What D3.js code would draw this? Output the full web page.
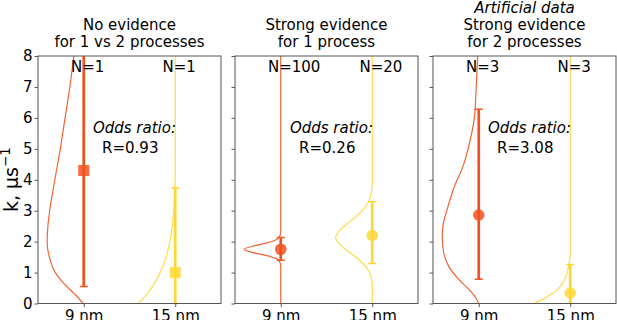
<!DOCTYPE html>
<html lang="en">
<head>
<meta charset="UTF-8" />
<script src="https://d3js.org/d3.v7.min.js"></script>
<style>
  body { margin: 0; background: #fff; }
  text { font-family: "DejaVu Sans", sans-serif; fill: #000; }
</style>
</head>
<body>
<script>
// ---- data ----
var categories = ["9 nm", "15 nm"];
var kTicks = [0, 1, 2, 3, 4, 5, 6, 7, 8];
var titles = [
    ["No evidence", "for 1 vs 2 processes"],
    ["Strong evidence", "for 1 process"],
    ["Artificial data", "Strong evidence", "for 2 processes"]
];
var counts = [[1, 1], [100, 20], [3, 3]];
var oddsRatios = ["0.93", "0.26", "3.08"];
var markerShapes = ["square", "circle", "circle"];
var means = [[4.3, 1.0], [1.75, 2.2], [2.86, 0.34]];
var lowers = [[0.55, 0], [1.40, 1.29], [0.78, 0]];
var uppers = [[12, 3.73], [2.13, 3.29], [6.28, 1.26]];

// posterior densities (k, relative height) for each panel / category
var densities = [
    [
        [[0, 0.02], [0.25, 0.2], [0.5, 0.42], [0.75, 0.62], [1, 0.78], [1.5, 0.94], [2, 1.0], [2.5, 0.98], [3, 0.93], [4, 0.79], [5, 0.64], [6, 0.51], [7, 0.38], [8, 0.27], [8.5, 0.22]],
        [[0, 1.0], [0.25, 0.82], [0.5, 0.65], [0.75, 0.52], [1, 0.41], [1.5, 0.25], [2, 0.15], [2.5, 0.08], [3, 0.04], [3.5, 0.015], [4, 0.004], [5, 0], [8.5, 0]]
    ],
    [
        [[0, 0], [1.2, 0], [1.35, 0.03], [1.45, 0.12], [1.55, 0.38], [1.65, 0.78], [1.75, 1.0], [1.85, 0.78], [1.95, 0.4], [2.05, 0.14], [2.15, 0.04], [2.3, 0], [8.5, 0]],
        [[0, 0], [0.6, 0], [0.9, 0.04], [1.15, 0.15], [1.4, 0.35], [1.65, 0.62], [1.9, 0.88], [2.13, 1.0], [2.35, 0.9], [2.6, 0.66], [2.85, 0.4], [3.1, 0.2], [3.35, 0.08], [3.6, 0.025], [3.9, 0], [8.5, 0]]
    ],
    [
        [[0, 0], [0.16, 0.07], [0.43, 0.25], [0.76, 0.53], [1.2, 0.82], [1.6, 0.95], [2.2, 1.0], [2.5, 0.98], [3.1, 0.85], [3.8, 0.66], [4.4, 0.44], [5.2, 0.25], [6, 0.12], [7, 0.07], [8, 0.03], [8.5, 0.02]],
        [[0, 1.0], [0.15, 0.72], [0.32, 0.49], [0.45, 0.35], [0.65, 0.21], [0.9, 0.11], [1.18, 0.05], [1.4, 0.015], [1.6, 0], [8.5, 0]]
    ]
];

var colors = ["#f4511e", "#fdd835"];

var width = 617, height = 320;
var panelLefts = [38, 235, 433], panelWidth = 183;
var plotTop = 56, plotBottom = 303.5;
var fs = "15px";

var svg = d3.select("body").append("svg")
    .attr("width", width)
    .attr("height", height);

var y = d3.scaleLinear().domain([0, 8]).range([plotBottom, plotTop]);

// y label
svg.append("text")
    .attr("transform", "translate(17.5," + ((plotTop + plotBottom) / 2) + ") rotate(-90)")
    .attr("text-anchor", "middle")
    .style("font-size", "19px")
    .text("k, \u03bcs")
    .append("tspan").attr("dy", -7.5).style("font-size", "13.3px").text("\u22121");

panelLefts.forEach(function (left, p) {
    var x = d3.scaleLinear().domain([-0.5, 1.5]).range([left, left + panelWidth]);
    var g = svg.append("g");

    var clipId = "clip" + p;
    svg.append("clipPath").attr("id", clipId).append("rect")
        .attr("x", left).attr("y", plotTop).attr("width", panelWidth).attr("height", plotBottom - plotTop);

    // title lines, last one sits just above the frame
    var lines = titles[p];
    lines.forEach(function (t, i) {
        g.append("text")
            .attr("x", left + panelWidth / 2)
            .attr("y", 47 - (lines.length - 1 - i) * 16.8)
            .attr("text-anchor", "middle")
            .style("font-size", fs)
            .style("font-style", (lines.length == 3 && i == 0) ? "italic" : "normal")
            .text(t);
    });

    var plot = g.append("g").attr("clip-path", "url(#" + clipId + ")");

    categories.forEach(function (c, i) {
        // density curve bulging to the left
        var line = d3.line()
            .x(function (d) { return x(i - 0.4 * d[1]); })
            .y(function (d) { return y(d[0]); })
            .curve(d3.curveMonotoneY);
        plot.append("path")
            .attr("d", line(densities[p][i]))
            .attr("fill", "none")
            .attr("stroke", colors[i])
            .attr("stroke-opacity", 0.9)
            .attr("stroke-width", 1.2);

        // error bar
        plot.append("line")
            .attr("x1", x(i)).attr("x2", x(i))
            .attr("y1", y(lowers[p][i])).attr("y2", y(uppers[p][i]))
            .attr("stroke", colors[i])
            .attr("stroke-width", 2.7);
        [lowers[p][i], uppers[p][i]].forEach(function (v) {
            plot.append("line")
                .attr("x1", x(i) - 4).attr("x2", x(i) + 4)
                .attr("y1", y(v)).attr("y2", y(v))
                .attr("stroke", colors[i])
                .attr("stroke-width", 1.5);
        });

        // marker
        if (markerShapes[p] == "square") {
            plot.append("rect")
                .attr("x", x(i) - 5.5).attr("y", y(means[p][i]) - 5.5)
                .attr("width", 11).attr("height", 11)
                .attr("fill", colors[i]).attr("fill-opacity", 0.85);
        } else {
            plot.append("circle")
                .attr("cx", x(i)).attr("cy", y(means[p][i]))
                .attr("r", 5.8)
                .attr("fill", colors[i]).attr("fill-opacity", 0.85);
        }

        // N label
        g.append("text")
            .attr("x", x(i - 0.14))
            .attr("y", 72)
            .style("font-size", fs)
            .text("N=" + counts[p][i]);
    });

    // odds ratio
    g.append("text")
        .attr("x", x(0.1)).attr("y", y(5.51))
        .style("font-size", fs).style("font-style", "italic")
        .text("Odds ratio:");
    g.append("text")
        .attr("x", x(0.2)).attr("y", y(4.88))
        .style("font-size", fs)
        .text("R=" + oddsRatios[p]);

    // frame
    g.append("rect")
        .attr("x", left).attr("y", plotTop)
        .attr("width", panelWidth).attr("height", plotBottom - plotTop)
        .attr("fill", "none").attr("stroke", "#555").attr("stroke-width", 1);

    // y axis
    var yAxis = d3.axisLeft(y).tickValues(kTicks).tickSize(3.5).tickPadding(2)
        .tickFormat(p == 0 ? d3.format("d") : "");
    var ya = g.append("g").attr("transform", "translate(" + left + ",0)").call(yAxis);
    ya.select(".domain").remove();
    ya.selectAll("line").attr("stroke", "#555");
    ya.selectAll("text").style("font-size", fs).attr("fill", "#000");

    // x axis
    var xAxis = d3.axisBottom(x).tickValues([0, 1]).tickSize(3.5).tickPadding(3)
        .tickFormat(function (d) { return categories[d]; });
    var xa = g.append("g").attr("transform", "translate(0," + plotBottom + ")").call(xAxis);
    xa.select(".domain").remove();
    xa.selectAll("line").attr("stroke", "#555");
    xa.selectAll("text").style("font-size", fs).attr("fill", "#000");
});
</script>
</body>
</html>
